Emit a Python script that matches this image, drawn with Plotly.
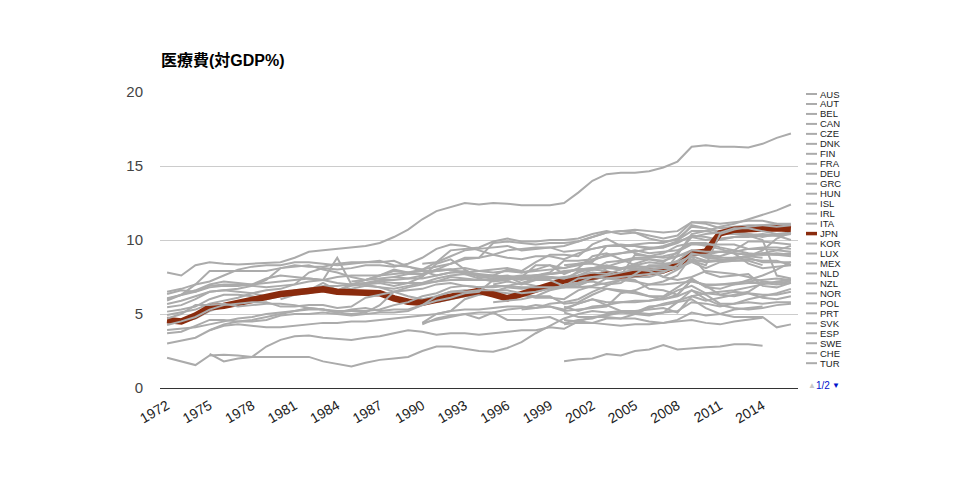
import plotly.graph_objects as go

# ---------------- data (health expenditure, % of GDP) ----------------
AUS = [5.45,5.6,6.0,6.5,6.6,6.5,6.4,6.2,6.2, 6.3,6.4,6.6,6.6,6.7,6.9,6.8,6.7,6.9,7.1,
       7.2,7.3,7.3,7.3,7.3,7.4,7.5,7.6,7.7,7.9, 8.0,8.1,8.2,8.1,8.2,8.2,8.3,8.4,8.7,
       8.5,8.6,8.8,8.9,9.1,9.3,9.6]
AUT = [8.4, 8.5,8.9,9.3,9.4,9.5,9.6,9.3,9.4,9.5,9.2, 9.3,9.4,9.6,9.6,9.6,9.5,9.5,9.8,10.3,
       10.2,10.0,10.2,10.2,10.3,10.3,10.4]
BEL = [4.4,4.5,4.7,5.2,5.5,5.7,5.9,6.0,6.3, 6.6,6.7,6.9,6.9,7.0,7.1,7.2,7.1,7.1,7.1,
       7.4,7.6,7.7,7.6,7.6,8.0,7.8,7.9,8.0,8.1, 8.3,8.5,9.6,9.7,9.6,9.4,9.5,9.9,10.2,
       10.0,10.1,10.2,10.3,10.4,10.3,10.0]
CAN = [6.35,6.6,6.5,6.9,7.0,7.0,6.9,6.8,6.9, 7.0,7.8,8.1,8.0,8.1,8.3,8.3,8.2,8.4,8.8,
       9.4,9.7,9.6,9.3,9.0,8.8,8.7,8.9,8.9,8.7, 9.1,9.4,9.6,9.6,9.7,9.8,9.8,10.1,10.9,
       10.8,10.5,10.5,10.4,10.2,10.4,10.5]
CZE = [4.4, 5.0,5.2,6.0,6.3,6.4,6.2,6.3,6.2,6.2,5.7, 5.8,6.3,6.7,6.5,6.4,6.2,6.0,6.3,7.3,
       6.9,7.0,7.0,7.1,7.1,7.0,7.1]
DNK = [5.68,5.9,6.2,6.5,6.6,6.7,6.9,7.3,8.1, 8.2,8.3,8.0,7.8,7.5,7.3,7.6,7.9,7.8,7.9,
       7.9,8.0,8.1,7.9,7.8,7.9,7.8,8.0,8.3,8.1, 8.4,8.6,9.0,9.1,9.2,9.4,9.6,9.9,11.0,
       10.8,10.6,10.6,10.4,10.3,10.3,10.4]
FIN = [5.16,5.3,5.5,6.0,6.3,6.3,6.2,6.0,6.2, 6.4,6.6,6.7,6.6,6.9,7.0,7.1,6.9,7.1,7.5,
       8.4,8.7,8.0,7.5,7.4,7.5,7.1,6.9,6.9,6.8, 7.0,7.3,7.6,7.7,7.9,7.9,7.8,8.2,9.0,
       9.0,8.9,9.2,9.4,9.5,9.5,9.4]
FRA = [4.93,5.1,5.3,5.7,5.9,6.1,6.4,6.6,6.7, 7.0,7.2,7.3,7.5,7.6,7.6,7.6,7.7,7.8,8.0,
       8.2,8.4,8.8,8.8,9.8,9.9,9.8,9.7,9.8,9.8, 9.9,10.2,10.5,10.6,10.7,10.6,10.5,10.6,11.2,
       11.2,11.1,11.2,11.3,11.3,11.1,11.0]
DEU = [5.9,6.3,7.0,7.9,7.9,7.9,7.9,7.9,8.1, 8.3,8.2,8.2,8.4,8.5,8.5,8.5,8.6,8.2,8.0,
       8.5,9.3,9.4,9.5,9.9,10.1,9.9,9.9,10.0,10.0, 10.1,10.4,10.6,10.4,10.5,10.3,10.1,10.3,11.2,
       11.1,10.8,10.9,11.0,11.0,11.1,11.1]
GRC = [7.0,7.2,7.0,7.3,7.5,7.2, 7.9,8.0,7.9,7.6,9.0,8.9,9.1,9.6,9.8,
       9.6,9.4,9.1,8.4,8.1,8.2,8.3]
HUN = [5.8,6.0,6.2,6.3,6.5,6.8,6.7,6.8,6.9,6.8, 6.9,7.3,8.1,8.0,8.3,8.1,7.5,7.3,7.5,
       7.9,7.8,7.7,7.5,7.2,7.1,7.2]
ISL = [6.0, 6.3,6.6,7.1,6.6,7.0,7.3,7.6,8.0,7.8,7.7, 8.0,8.0,7.8,7.9,8.0,8.1,7.9,8.5,9.0,9.0,
       8.9,9.7,10.1,9.6,9.1,8.9,8.8,8.9,9.2, 8.8,8.7,8.6,8.7,8.6,8.6,8.3]
IRL = [6.0,6.3,6.6,7.0,7.2,7.1,7.0,7.4,7.6, 7.5,7.4,7.3,8.8,7.0,7.0,6.8,6.5,6.2,6.0,
       6.2,6.5,6.6,6.6,6.5,6.4,6.3,6.1,6.1,6.0, 6.6,6.9,7.1,7.3,7.5,7.5,7.8,9.0,10.4,
       10.6,10.4,10.4,10.3,10.0,7.6,7.4]
ITA = [7.5,7.7,7.7, 7.9,8.0,7.7,7.4,7.2,7.3,7.5,7.6,7.7,7.8, 8.0,8.1,8.2,8.5,8.7,8.7,8.6,8.9,9.3,
       9.2,9.2,9.1,9.0,9.1,9.0,8.9]
JPN = [4.6,4.5,4.9,5.45,5.55,5.75,5.95,6.2,6.35, 6.45,6.55,6.67,6.5,6.47,6.48,6.4,6.06,5.83,5.76,
       5.95,6.17,6.35,6.57,6.33,6.06,6.35,6.65,7.0,7.25, 7.4,7.5,7.65,7.6,7.7,7.75,7.95,8.3,9.1,
       9.2,10.45,10.7,10.75,10.8,10.8,10.75]
KOR = [2.3,1.8,2.0,2.1,2.8,3.25, 3.5,3.55,3.4,3.3,3.25,3.4,3.5,3.7,3.9,3.8,
       3.6,3.7,3.7,3.6,3.7,3.8,3.9,3.9,4.1,4.0, 4.5,4.4,4.7,4.7,5.0,5.4,5.7,5.9,6.2,
       6.4,6.5,6.6,6.8,7.0,7.2,7.3]
LUX = [3.9,4.2,4.3,4.2,4.1,4.1, 4.2,4.3,4.4,4.4,4.5,4.5,4.6,4.7,4.8,4.9,
       5.0,5.2,5.3,5.3,5.4,5.5,5.5,5.4,5.7,5.8, 6.0,6.5,6.9,7.3,7.3,6.7,6.6,6.3,7.3,
       6.9,6.3,6.5,6.4,6.1,6.0,6.2]
MEX = [4.4, 4.6,4.8,5.0,5.1,5.1,4.6,4.6,4.7,4.8,4.4, 4.6,4.7,5.0,5.1,5.1,5.0,5.1,5.2,5.8,
       5.7,5.5,5.7,5.8,5.7,5.8,5.8]
NLD = [6.06,6.3,6.5,6.8,6.9,6.9,7.0,7.1,7.2, 7.3,7.4,7.3,7.1,7.0,7.1,7.3,7.3,7.4,7.4,
       7.6,7.8,7.8,7.7,7.6,7.5,7.3,7.5,7.5,7.4, 7.6,8.0,8.5,8.6,8.8,8.8,8.9,9.1,10.2,
       10.4,10.5,10.8,10.8,10.6,10.4,10.4]
NZL = [4.7,5.0,5.6,5.6,5.7,5.5,5.6,5.7,5.7, 5.6,5.4,5.3,5.1,5.0,5.1,5.6,6.5,6.6,6.7,
       7.0,7.1,6.9,6.8,6.9,6.9,7.1,7.4,7.4,7.5, 7.6,7.8,7.7,8.0,8.4,8.7,8.5,9.2,9.7,
       9.7,9.7,9.7,9.4,9.4,9.3,9.2]
NOR = [4.26,4.5,4.8,5.3,5.6,5.7,5.8,5.8,5.5, 5.5,5.6,5.6,5.4,5.5,6.1,6.3,6.5,6.8,7.0,
       7.2,7.5,7.4,7.3,7.3,7.3,7.5,8.3,8.3,7.7, 8.1,8.9,9.1,8.7,8.3,8.0,8.1,8.1,9.1,
       8.9,8.8,8.8,8.9,9.3,10.1,10.5]
POL = [4.3, 4.7,4.9,5.0,4.7,5.1,5.3,5.4,5.6,5.5,5.3, 5.7,6.0,5.8,5.8,5.8,5.9,6.1,6.6,6.9,
       6.4,6.3,6.2,6.4,6.3,6.3,6.5]
PRT = [3.0,3.2,3.4,3.9,4.3,4.5,4.6,4.8,5.0, 5.2,5.4,5.3,5.1,5.3,5.4,5.2,5.3,5.3,5.6,
       5.9,6.1,6.4,6.5,7.3,7.5,7.6,7.6,7.8,8.6, 8.6,8.7,8.9,9.1,9.3,9.1,9.2,9.3,9.8,
       9.8,9.5,9.3,9.1,9.0,9.0,9.1]
SVK = [5.3,5.4,5.5,5.2, 5.3,5.4,5.5,6.4,6.6,7.0,7.2,7.6,8.9, 7.8,7.5,7.6,7.7,6.9,6.8,7.1]
ESP = [3.92,4.0,4.1,4.3,4.5,4.7,4.8,5.0,5.1, 5.2,5.3,5.3,5.2,5.2,5.2,5.3,5.6,5.8,6.2,
       6.4,6.8,6.9,6.8,6.8,6.9,6.8,6.8,6.8,6.8, 6.8,6.9,7.4,7.5,7.6,7.7,7.8,8.3,9.0,
       9.0,9.2,9.1,9.0,9.0,9.1,9.0]
SWE = [6.5,6.7,7.0,7.2,7.6,8.0,8.2,8.3,8.3, 8.5,8.5,8.4,8.3,8.4,8.5,8.6,8.3,8.2,7.9,
       7.6,7.8,7.9,7.6,7.5,7.6,7.4,7.5,7.5,7.4, 7.8,8.1,8.3,8.1,8.1,8.0,7.9,8.1,8.6,8.3,
       10.4,10.7,10.9,11.0,10.9,11.0]
CHE = [7.2,7.3,7.4,7.5,7.4,7.6, 8.0,8.4,8.7,8.8,9.0,9.3,9.4,9.5,9.5,9.6,
       9.9,10.2,10.5,10.6,10.5,10.1,9.9,10.0,10.6, 10.6,10.9,11.1,11.4,11.7,12.0,12.4]
TUR = [2.05,1.8,1.55,2.2,2.25,2.2,2.1,2.1,2.1, 2.15,2.1,1.8,1.6,1.45,1.7,1.9,2.0,2.1,2.5,
       2.8,2.8,2.65,2.5,2.45,2.7,3.1,3.7,4.2,4.7, 5.0,5.2,5.1,5.2,5.1,5.5,5.6,5.8,6.0,
       5.4,5.0,4.8,4.8,4.8,4.1,4.3]
GBR = [3.7,3.8,4.2,4.6,4.6,4.5,4.5,4.6,4.9, 5.0,5.0,5.1,5.0,4.9,5.0,5.1,5.1,5.2,5.6,
       6.2,6.5,6.5,6.6,6.6,6.6,6.4,6.5,6.7,6.9, 7.1,7.5,7.6,7.8,8.0,8.2,8.2,8.6,9.3,
       9.2,9.2,9.3,9.9,9.9,9.8,9.7]
USA = [7.8,7.6,8.3,8.5,8.4,8.35,8.4,8.45,8.5, 8.8,9.2,9.3,9.4,9.45,9.6,9.8,10.2,10.7,11.4,
       11.95,12.25,12.5,12.4,12.5,12.45,12.35,12.35,12.35,12.5, 13.2,14.0,14.45,14.55,14.55,14.65,14.9,15.3,16.3,
       16.4,16.3,16.3,16.25,16.5,16.9,17.2]
CHL = [5.8,5.9,6.0,6.2,6.6,6.8, 6.8,6.8,6.7,6.6,6.5,6.2,6.2,6.8,7.4, 6.8,6.7,7.0,7.3,7.6,8.0,8.5]
EST = [5.1, 4.8,4.8,4.9,5.1,5.0,4.9,5.1,5.8,6.6, 6.3,5.7,5.7,6.0,6.2,6.4,6.7]
ISR = [7.4,7.5,7.4,7.3,7.3,6.9, 7.4,7.5,7.4,7.3,7.2,7.0,7.0,7.1,7.2, 7.0,7.0,7.1,7.2,7.3,7.4,7.3]
SVN = [7.3,7.5,7.5,7.6,7.7,7.8, 8.0,8.0,8.1,8.1,8.0,7.9,7.5,8.0,8.6, 8.6,8.6,8.8,8.8,8.5,8.5,8.5]
LVA = [5.5, 5.2,5.5,5.6,5.8,5.9,5.9,6.0,6.2,6.6, 6.0,5.6,5.4,5.3,5.4,5.6,5.7]
BRA = [7.0,7.1,7.2,7.0,7.1,7.7,8.3,8.3,8.1,8.5,8.1,8.5,8.6,8.6,8.3]
CHN = [4.6,4.5,4.8,4.8,4.7,4.7,4.5,4.4,4.6,5.1,4.9,5.0,5.3,5.4,5.5]
IND = [4.3,4.4,4.4,4.3,4.2,4.3,4.3,4.4,4.5,4.6,4.4,4.3,4.5,4.6,4.75]
IDN = [1.8,1.95,2.0,2.3,2.2,2.5,2.6,2.9,2.6,2.7,2.75,2.8,2.95,2.95,2.85]
RUS = [5.4,5.7,6.0,5.6,5.2,5.2,5.3,5.4,5.1,6.2,5.9,6.1,6.3,6.5,7.1]
ZAF = [8.3,8.4,8.4,8.2,8.1,8.3,8.5,8.4,8.5,8.9,8.6,8.6,8.7,8.9,8.8]

codes = ["AUS","AUT","BEL","CAN","CZE","DNK","FIN","FRA","DEU","GRC","HUN","ISL","IRL","ITA",
         "JPN","KOR","LUX","MEX","NLD","NZL","NOR","POL","PRT","SVK","ESP","SWE","CHE","TUR",
         "GBR","USA","CHL","EST","ISR","SVN","LVA","BRA","CHN","IND","IDN","RUS","ZAF"]
series = [AUS,AUT,BEL,CAN,CZE,DNK,FIN,FRA,DEU,GRC,HUN,ISL,IRL,ITA,
          JPN,KOR,LUX,MEX,NLD,NZL,NOR,POL,PRT,SVK,ESP,SWE,CHE,TUR,
          GBR,USA,CHL,EST,ISR,SVN,LVA,BRA,CHN,IND,IDN,RUS,ZAF]
start_years = [1972,1990,1972,1972,1990,1972,1972,1972,1972,1995,1991,1980,1972,1988,
               1972,1975,1975,1990,1972,1972,1972,1990,1972,1997,1972,1972,1985,1972,
               1972,1972,1995,2000,1995,1995,2000,2000,2000,2000,2000,2000,2000]
highlight = "JPN"
legend_page1 = codes[:28]
tick_years = [1972,1975,1978,1981,1984,1987,1990,1993,1996,1999,2002,2005,2008,2011,2014]
y_ticks = [0,5,10,15,20]
title_text = "医療費(対GDP%)"

# ---------------- styling ----------------
GREY = "#ababab"
RED = "#8a2b0d"
FONT = "Arial, 'Liberation Sans', 'Noto Sans CJK JP', sans-serif"

fig = go.Figure()
for code, vals, s in zip(codes, series, start_years):
    xs = list(range(s, s + len(vals)))
    hl = code == highlight
    fig.add_trace(go.Scatter(
        x=xs, y=vals, mode="lines", name=code,
        line=dict(color=RED if hl else GREY, width=6.5 if hl else 2),
        showlegend=False, hoverinfo="skip"))

# plot area in pixels
L, R, T, B = 160, 798, 92, 388
def px(xp):
    return (xp - L) / (R - L)
def py(yp):
    return (B - yp) / (B - T)

shapes = []
annotations = []
# custom compact legend (page 1 of 2)
for i, code in enumerate(legend_page1):
    yy = 94 + i * 9.97
    hl = code == highlight
    shapes.append(dict(type="line", xref="paper", yref="paper",
                       x0=px(806), x1=px(817), y0=py(yy), y1=py(yy),
                       line=dict(color=RED if hl else GREY, width=3.5 if hl else 2)))
    annotations.append(dict(text=code, xref="paper", yref="paper", x=px(819), y=py(yy),
                            xanchor="left", yanchor="middle", showarrow=False,
                            borderpad=0, valign="middle",
                            font=dict(size=9.5, color="#222222", family=FONT)))
annotations.append(dict(text="▲", xref="paper", yref="paper", x=px(806), y=py(385),
                        xanchor="left", yanchor="middle", showarrow=False,
                        font=dict(size=8, color="#c8c8c8", family=FONT)))
annotations.append(dict(text="1/2", xref="paper", yref="paper", x=px(814), y=py(385),
                        xanchor="left", yanchor="middle", showarrow=False,
                        font=dict(size=10, color="#0011cc", family=FONT)))
annotations.append(dict(text="▼", xref="paper", yref="paper", x=px(830), y=py(385),
                        xanchor="left", yanchor="middle", showarrow=False,
                        font=dict(size=8, color="#0011cc", family=FONT)))
annotations.append(dict(text="<b>" + title_text + "</b>", xref="paper", yref="paper",
                        x=px(159), y=py(60), xanchor="left", yanchor="middle", showarrow=False,
                        font=dict(size=16, color="#000000", family=FONT)))

fig.update_layout(
    width=960, height=480,
    margin=dict(l=L, r=960 - R, t=T, b=480 - B),
    paper_bgcolor="white", plot_bgcolor="white",
    showlegend=False,
    shapes=shapes, annotations=annotations,
    font=dict(family=FONT),
    xaxis=dict(range=[1971.5, 2016.5], showgrid=False, zeroline=False, showline=False,
               tickmode="array", tickvals=tick_years, ticktext=[str(t) for t in tick_years],
               tickangle=-30, tickfont=dict(size=14, color="#222222", family=FONT),
               ticks="", ticklabelstandoff=6),
    yaxis=dict(range=[0, 20], tickmode="array", tickvals=y_ticks,
               ticktext=[str(t) for t in y_ticks],
               showgrid=True, gridcolor="#cccccc", gridwidth=1,
               zeroline=True, zerolinecolor="#333333", zerolinewidth=1,
               showline=False, ticks="", ticklabelstandoff=16,
               tickfont=dict(size=15, color="#444444", family=FONT)),
)

fig.write_html("out.html")
